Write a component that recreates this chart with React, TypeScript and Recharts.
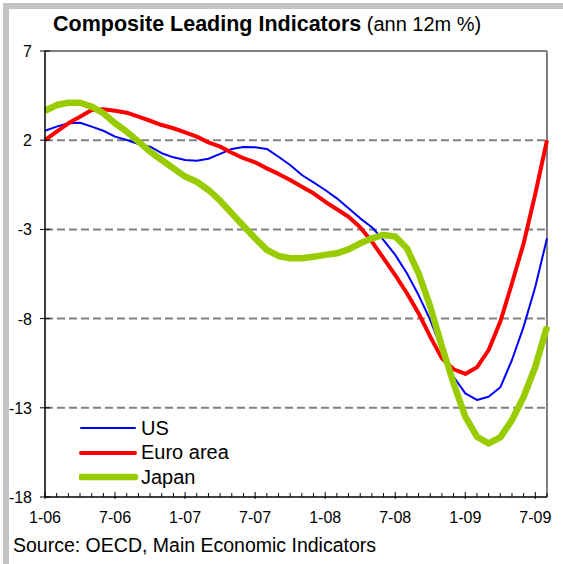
import { LineChart, Line, XAxis, YAxis, ReferenceLine, Legend } from "recharts";

// monthly, Jan 2006 .. Aug 2009
const months = [
  "1-06", "2-06", "3-06", "4-06", "5-06", "6-06", "7-06", "8-06", "9-06", "10-06", "11-06", "12-06",
  "1-07", "2-07", "3-07", "4-07", "5-07", "6-07", "7-07", "8-07", "9-07", "10-07", "11-07", "12-07",
  "1-08", "2-08", "3-08", "4-08", "5-08", "6-08", "7-08", "8-08", "9-08", "10-08", "11-08", "12-08",
  "1-09", "2-09", "3-09", "4-09", "5-09", "6-09", "7-09", "8-09",
];

const usValues = [
  2.53, 2.76, 2.95, 2.98, 2.76, 2.53, 2.2, 2.01, 1.79, 1.64, 1.27, 1.04,
  0.89, 0.85, 0.96, 1.23, 1.51, 1.62, 1.6, 1.51, 1.07, 0.61, 0.05, -0.36,
  -0.79, -1.26, -1.82, -2.38, -2.88, -3.6, -4.43, -5.46, -6.68, -8.08, -9.76, -11.26,
  -12.19, -12.56, -12.38, -11.85, -10.32, -8.45, -6.21, -3.5,
];

const euroValues = [
  2.01, 2.48, 2.95, 3.32, 3.69, 3.73, 3.65, 3.54, 3.32, 3.09, 2.85, 2.67,
  2.44, 2.2, 1.88, 1.64, 1.3, 0.99, 0.76, 0.42, 0.11, -0.23, -0.61, -0.98,
  -1.45, -1.87, -2.29, -2.88, -3.69, -4.62, -5.56, -6.58, -7.7, -9.01, -10.23, -10.84,
  -11.1, -10.73, -9.76, -8.17, -6.02, -3.78, -1.0, 2.0,
];

const japanValues = [
  3.65, 3.97, 4.1, 4.1, 3.88, 3.51, 2.95, 2.48, 1.92, 1.36, 0.89, 0.42,
  -0.04, -0.33, -0.79, -1.39, -2.1, -2.81, -3.5, -4.15, -4.49, -4.62, -4.62, -4.53,
  -4.43, -4.34, -4.12, -3.78, -3.5, -3.31, -3.4, -4.06, -5.46, -7.33, -9.57, -11.63,
  -13.5, -14.62, -15.0, -14.66, -13.69, -12.38, -10.7, -8.45,
];

const yTicks = [7, 2, -3, -8, -13, -18];
const gridLevels = [2, -3, -8, -13];
const labelEvery = 6;

const series = [
  { key: "us", name: "US", color: "#0000ff", width: 2 },
  { key: "euro", name: "Euro area", color: "#ff0000", width: 4 },
  { key: "japan", name: "Japan", color: "#99cc00", width: 6.5 },
];

const data = months.map((month, i) => ({
  month,
  us: usValues[i],
  euro: euroValues[i],
  japan: japanValues[i],
}));

const FONT = "Arial, 'Liberation Sans', sans-serif";
const PLOT_LEFT = 45;
const PLOT_BOTTOM = 497;

function XTick(props: any) {
  const { x, index, payload } = props;
  const major = index % labelEvery === 0;
  return (
    <g>
      <line
        x1={x}
        x2={x}
        y1={major ? PLOT_BOTTOM - 5 : PLOT_BOTTOM - 4}
        y2={major ? PLOT_BOTTOM + 2 : PLOT_BOTTOM}
        stroke="#000"
        strokeWidth={1}
      />
      {major && (
        <text x={x} y={PLOT_BOTTOM + 26} textAnchor="middle" fontSize={16} fontFamily={FONT} fill="#000">
          {payload.value}
        </text>
      )}
    </g>
  );
}

function YTick(props: any) {
  const { y, payload } = props;
  return (
    <g>
      <line x1={PLOT_LEFT - 5} x2={PLOT_LEFT + 5} y1={y} y2={y} stroke="#000" strokeWidth={1} />
      <text x={PLOT_LEFT - 13} y={y + 6} textAnchor="end" fontSize={16} fontFamily={FONT} fill="#000">
        {payload.value}
      </text>
    </g>
  );
}

function LegendBox() {
  return (
    <div style={{ fontFamily: FONT, fontSize: 20, color: "#000" }}>
      {series.map((s) => (
        <div key={s.key} style={{ display: "flex", alignItems: "center", height: 24.5 }}>
          <svg width={62} height={12}>
            <line x1={2} x2={56} y1={6} y2={6} stroke={s.color} strokeWidth={s.width} strokeLinecap="round" />
          </svg>
          <span>{s.name}</span>
        </div>
      ))}
    </div>
  );
}

export default function App() {
  return (
    <div style={{ position: "absolute", left: 0, top: 0, width: 563, height: 564, background: "#fff", overflow: "hidden" }}>
      {/* outer frame, only top and left visible */}
      <div
        style={{
          position: "absolute",
          left: 3,
          top: 3,
          width: 580,
          height: 580,
          borderLeft: "6px solid #c4c4c4",
          borderTop: "6px solid #c4c4c4",
        }}
      />
      <LineChart
        width={563}
        height={564}
        data={data}
        margin={{ top: 51, right: 16, left: 0, bottom: 0 }}
        style={{ position: "absolute", left: 0, top: 0 }}
      >
        <XAxis
          dataKey="month"
          interval={0}
          height={67}
          tickLine={false}
          axisLine={{ stroke: "#000", strokeWidth: 1.5 }}
          tick={<XTick />}
        />
        <YAxis
          type="number"
          domain={[-18, 7]}
          ticks={yTicks}
          width={45}
          tickLine={false}
          axisLine={{ stroke: "#000", strokeWidth: 1.5 }}
          tick={<YTick />}
        />
        {gridLevels.map((v) => (
          <ReferenceLine key={v} y={v} stroke="#808080" strokeWidth={2} strokeDasharray="8 4" />
        ))}
        <ReferenceLine y={7} stroke="#808080" strokeWidth={2} />
        <ReferenceLine x={months[months.length - 1]} stroke="#808080" strokeWidth={2} />
        {series.map((s) => (
          <Line
            key={s.key}
            type="linear"
            dataKey={s.key}
            name={s.name}
            stroke={s.color}
            strokeWidth={s.width}
            dot={false}
            strokeLinejoin="round"
            isAnimationActive={false}
          />
        ))}
        <Legend
          layout="vertical"
          align="center"
          verticalAlign="middle"
          content={<LegendBox />}
          wrapperStyle={{ left: 79, top: 416, width: "auto" }}
        />
      </LineChart>
      <svg width={563} height={564} style={{ position: "absolute", left: 0, top: 0, pointerEvents: "none" }}>
        <text x={53} y={31} fontFamily={FONT} fill="#000">
          <tspan fontSize={21.5} fontWeight="bold">Composite Leading Indicators</tspan>
          <tspan fontSize={20}> (ann 12m %)</tspan>
        </text>
        <text x={13} y={552} fontFamily={FONT} fontSize={19.5} fill="#000">
          Source: OECD, Main Economic Indicators
        </text>
      </svg>
    </div>
  );
}
